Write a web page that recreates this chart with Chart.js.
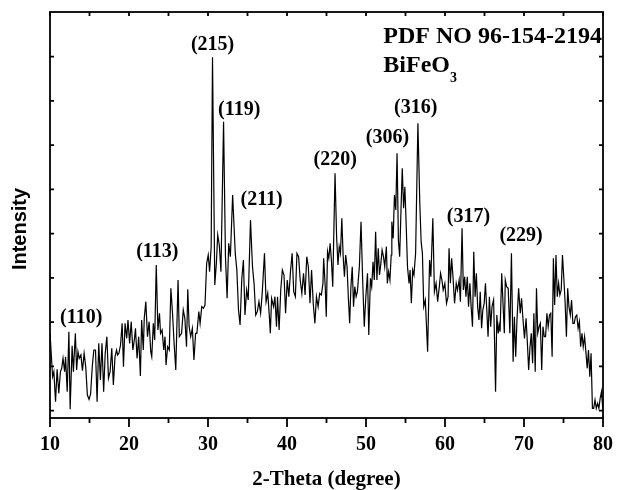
<!DOCTYPE html>
<html>
<head>
<meta charset="utf-8">
<script src="https://cdn.jsdelivr.net/npm/chart.js@4"></script>
<style>
  body { margin: 0; background: #fff; }
</style>
</head>
<body>
<canvas id="xrd" width="628" height="490"></canvas>
<script>
// XRD pattern (2-theta in degree, intensity in arb. units)
twoTheta = [
  10.00,10.33,10.49,10.70,10.90,11.11,11.32,11.48,11.65,11.85,
  11.97,12.18,12.39,12.55,12.80,12.96,13.21,13.37,13.54,13.70,
  13.91,14.11,14.32,14.52,14.73,14.94,15.14,15.35,15.55,15.76,
  15.96,16.17,16.38,16.58,16.79,16.99,17.20,17.40,17.61,17.82,
  18.02,18.23,18.43,18.56,18.72,18.93,19.13,19.30,19.50,19.71,
  19.87,20.08,20.28,20.49,20.70,20.82,21.02,21.23,21.44,21.60,
  21.81,21.93,22.13,22.34,22.55,22.75,22.88,23.08,23.25,23.45,
  23.66,23.86,23.99,24.19,24.40,24.56,24.69,24.89,25.10,25.30,
  25.51,25.71,25.92,26.21,26.37,26.66,26.87,27.07,27.28,27.44,
  27.61,27.81,28.02,28.22,28.43,28.59,28.84,29.00,29.21,29.42,
  29.62,
  29.83,30.03,30.20,30.40,30.57,30.86,31.06,31.23,31.43,31.64,
  31.97,32.21,32.42,32.62,32.83,33.12,
  33.45,33.65,33.86,34.06,34.27,34.48,34.68,34.89,35.09,35.38,
  35.63,35.83,36.04,36.24,36.45,36.66,36.86,37.15,37.35,37.56,
  37.77,37.89,38.05,38.30,38.47,38.67,38.80,39.00,39.21,39.41,
  39.62,39.82,40.03,40.23,40.44,40.65,40.85,41.06,41.26,41.47,
  41.67,41.88,42.09,42.29,42.50,42.70,42.91,43.11,43.32,43.53,
  43.73,43.94,44.14,44.35,44.55,
  44.64,44.84,44.97,45.13,45.29,45.46,45.62,45.79,46.08,46.28,
  46.45,46.61,46.77,46.94,47.10,47.27,47.43,47.60,47.76,47.93,
  48.09,48.26,48.42,48.58,48.75,48.91,49.16,49.37,49.57,49.78,
  49.98,50.19,50.35,50.56,50.72,50.89,51.05,51.22,51.38,51.55,
  51.71,51.88,52.04,52.21,52.37,52.58,52.70,52.86,53.03,53.19,
  53.27,53.44,53.60,53.77,53.93,54.10,54.26,54.43,54.59,54.76,
  54.92,55.08,
  55.25,55.45,55.58,55.74,55.91,56.07,56.28,56.57,56.81,56.98,
  57.14,57.31,57.51,57.80,58.05,58.21,58.46,58.66,58.87,59.07,
  59.28,59.44,59.61,59.77,59.98,60.19,60.39,60.51,60.68,60.84,
  61.01,61.21,61.42,61.58,61.79,61.95,62.16,62.32,62.49,62.65,
  62.82,62.98,63.15,63.31,63.48,63.64,63.81,63.97,64.13,64.30,
  64.46,64.63,64.79,64.96,65.12,65.29,65.45,65.62,65.78,65.95,
  66.15,66.27,66.40,66.56,66.73,66.85,66.97,67.18,67.38,67.51,
  67.63,67.80,68.00,68.21,68.41,68.62,68.78,68.95,69.11,69.32,
  69.52,69.69,69.85,70.06,70.26,70.43,70.59,70.76,70.92,71.09,
  71.25,71.42,71.58,71.74,71.91,72.07,72.24,72.40,72.57,72.73,
  72.90,73.06,73.23,73.39,73.56,73.72,73.88,74.05,74.21,74.38,
  74.54,74.71,74.87,75.04,75.20,75.37,75.53,75.69,75.86,76.02,
  76.19,76.35,76.52,76.68,76.85,77.01,77.17,77.34,77.50,77.67,
  77.83,78.00,78.16,78.33,78.49,78.66,78.82,78.99,79.15,79.32,
  79.48,79.64,79.81,79.97
];

intensity = [
  256,124,139,49,146,74,139,149,179,139,
  184,79,259,26,217,139,254,144,199,179,
  189,142,194,154,69,56,72,154,204,204,
  49,224,114,224,79,194,244,119,139,209,
  99,184,204,189,194,219,284,154,284,239,
  294,224,289,204,239,269,179,244,126,294,
  204,299,349,244,289,199,184,284,234,459,
  264,314,254,264,204,244,159,214,204,389,
  314,224,144,414,244,254,324,299,214,386,
  274,244,269,174,254,254,319,284,334,329,
  339,
  464,489,439,514,1082,399,464,549,519,439,
  889,484,359,524,484,669,
  494,444,324,279,414,474,309,384,354,594,
  454,404,309,319,349,314,374,494,349,374,
  304,254,359,334,364,274,364,264,384,444,
  429,314,414,364,439,494,379,364,494,484,
  414,374,434,369,484,454,344,444,344,284,
  364,334,374,369,404,
  479,394,304,499,479,524,474,394,734,544,
  459,514,494,599,489,424,489,454,364,284,
  394,454,334,394,364,379,454,589,419,274,
  364,434,249,419,394,469,414,559,414,509,
  429,464,504,484,454,514,404,439,414,489,
  589,539,669,624,794,534,484,624,749,629,
  694,584,
  454,404,444,344,444,429,494,884,644,529,
  494,334,354,199,474,424,599,379,404,349,
  394,434,414,384,404,344,364,509,404,479,
  424,344,404,384,414,349,569,384,424,364,
  424,334,404,334,274,499,364,434,334,294,
  379,269,324,344,404,324,244,364,274,334,
  354,234,79,309,254,279,259,434,324,254,
  414,394,389,254,494,169,304,184,294,389,
  314,359,304,239,299,224,144,214,254,164,
  314,139,389,254,274,284,144,274,244,244,
  314,274,309,314,184,479,339,489,364,404,
  369,384,489,419,349,244,389,334,309,354,
  284,284,304,309,269,289,214,254,214,244,
  199,149,204,124,194,29,29,54,29,44,
  29,59,79,29
];

// peak indexing labels (centre of label, in data units)
peakLabels = ['(110)', '(113)', '(215)', '(119)', '(211)', '(220)', '(306)', '(316)', '(317)', '(229)'];
peakLabelX = [13.95, 23.58, 30.58, 33.95, 36.79, 46.11, 52.72, 56.30, 62.96, 69.63];
peakLabelY = [300, 498, 1119, 924, 654, 774, 840, 930, 603, 546];

// unlabeled intensity ticks
yTickStart = 22;
yTickStep = 132.75;

const serif = "'Liberation Serif', 'Times New Roman', serif";
const sans = "'Liberation Sans', Arial, sans-serif";

const points = twoTheta.map((t, i) => ({x: t, y: intensity[i]}));

// frame, mirrored ticks and text labels
const framePlugin = {
  id: 'frame',
  afterDatasetsDraw(chart) {
    const ctx = chart.ctx;
    const a = chart.chartArea;
    const x = chart.scales.x;
    const y = chart.scales.y;
    ctx.save();
    ctx.strokeStyle = '#000';
    ctx.lineWidth = 1.8;
    ctx.strokeRect(a.left, a.top, a.right - a.left, a.bottom - a.top);

    ctx.beginPath();
    for (let v = 10; v <= 80; v += 5) {
      const px = x.getPixelForValue(v);
      const len = (v % 10 === 0) ? 9 : 5;
      ctx.moveTo(px, a.bottom);
      ctx.lineTo(px, a.bottom + len);
      ctx.moveTo(px, a.top);
      ctx.lineTo(px, a.top + 4);
    }
    for (let v = yTickStart; v < y.max - 10; v += yTickStep) {
      const py = y.getPixelForValue(v);
      ctx.moveTo(a.left, py);
      ctx.lineTo(a.left + 4, py);
      ctx.moveTo(a.right, py);
      ctx.lineTo(a.right - 4, py);
    }
    ctx.stroke();

    ctx.fillStyle = '#000';
    ctx.textAlign = 'center';
    ctx.textBaseline = 'middle';
    ctx.font = 'bold 20px ' + serif;
    for (let i = 0; i < peakLabels.length; i++) {
      ctx.fillText(peakLabels[i], x.getPixelForValue(peakLabelX[i]), y.getPixelForValue(peakLabelY[i]));
    }

    // card number and phase
    ctx.textAlign = 'left';
    ctx.textBaseline = 'alphabetic';
    ctx.font = 'bold 24px ' + serif;
    const tx = x.getPixelForValue(52.19);
    ctx.fillText('PDF NO 96-154-2194', tx, y.getPixelForValue(1125));
    const by = y.getPixelForValue(1038);
    ctx.fillText('BiFeO', tx, by);
    const w = ctx.measureText('BiFeO').width;
    ctx.font = 'bold 14px ' + serif;
    ctx.fillText('3', tx + w, by + 10);

    // y axis title
    ctx.translate(20, 229);
    ctx.rotate(-Math.PI / 2);
    ctx.textAlign = 'center';
    ctx.textBaseline = 'middle';
    ctx.font = 'bold 20px ' + sans;
    ctx.fillText('Intensity', 0, 0);
    ctx.restore();
  }
};

const ctx = document.getElementById('xrd').getContext('2d');
const myChart = new Chart(ctx, {
  type: 'line',
  data: {
    datasets: [{
      label: 'BiFeO3',
      data: points,
      borderColor: '#000',
      borderWidth: 1.2,
      pointRadius: 0,
      tension: 0,
      fill: false,
    }]
  },
  options: {
    responsive: false,
    animation: false,
    devicePixelRatio: 1,
    layout: { padding: { top: 12, right: 11, left: 0, bottom: 0 } },
    plugins: {
      legend: { display: false },
      tooltip: { enabled: false },
    },
    scales: {
      x: {
        type: 'linear',
        min: 10,
        max: 80,
        border: { display: false },
        grid: { display: false, drawTicks: false },
        ticks: {
          stepSize: 10,
          padding: 15,
          color: '#000',
          font: { family: serif, size: 20, weight: 'bold' },
        },
        title: {
          display: true,
          text: '2-Theta (degree)',
          color: '#000',
          padding: 0,
          font: { family: serif, size: 21, weight: 'bold', lineHeight: 1 },
        },
        afterFit(scale) { scale.height = 72; },
      },
      y: {
        min: 0,
        max: 1218,
        border: { display: false },
        grid: { display: false, drawTicks: false },
        ticks: { display: false },
        afterFit(scale) { scale.width = 50; },
      }
    }
  },
  plugins: [framePlugin],
});
</script>
</body>
</html>
